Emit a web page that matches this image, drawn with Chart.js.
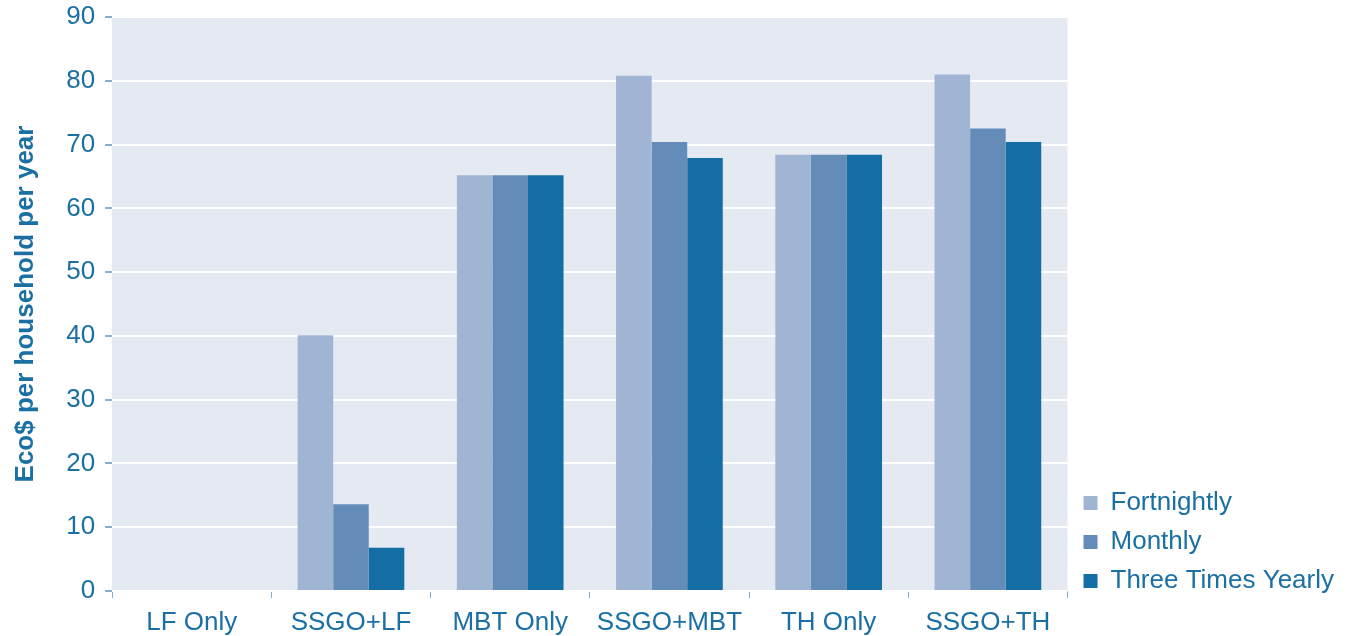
<!DOCTYPE html>
<html>
<head>
<title>Eco$ per household per year</title>
<script src="https://cdn.jsdelivr.net/npm/chart.js"></script>
<style>
    body { margin: 0; background: #fff; }
    #chartContainer {
        width: 1356px;
        height: 636px;
    }
</style>
</head>
<body>
<div id="chartContainer">
    <canvas id="myChart"></canvas>
</div>

<script>
var categories = ['LF Only', 'SSGO+LF', 'MBT Only', 'SSGO+MBT', 'TH Only', 'SSGO+TH'];
var fortnightly = [0, 40.1, 65.2, 80.8, 68.4, 81.0];
var monthly = [0, 13.6, 65.2, 70.4, 68.4, 72.5];
var threeTimesYearly = [0, 6.8, 65.2, 67.9, 68.4, 70.4];
var yTicks = [0, 10, 20, 30, 40, 50, 60, 70, 80, 90];

var textColor = '#1a6fa3';
var tickMarkColor = '#7fb0d0';

Chart.defaults.font.family = '"Liberation Sans", Arial, sans-serif';
Chart.defaults.color = textColor;

// grey-blue panel behind the bars
var plotBackground = {
    id: 'plotBackground',
    beforeDraw: function(chart) {
        var a = chart.chartArea;
        var c = chart.ctx;
        c.save();
        c.fillStyle = '#e5e9f2';
        c.fillRect(a.left, a.top, a.right - a.left, a.bottom - a.top);
        c.restore();
    }
};

// legend sits a little lower, its last row level with the bottom of the bars
var legendNudge = {
    id: 'legendNudge',
    afterLayout: function(chart) {
        chart.legend.top += 16;
        chart.legend.bottom += 16;
        chart.legend.left += 3;
        chart.legend.right += 3;
    }
};

var ctx = document.getElementById('myChart').getContext('2d');

var chart = new Chart(ctx, {
    type: 'bar',
    data: {
        labels: categories,
        datasets: [{
            label: 'Fortnightly',
            data: fortnightly,
            backgroundColor: '#a0b4d4'
        }, {
            label: 'Monthly',
            data: monthly,
            backgroundColor: '#648cb8'
        }, {
            label: 'Three Times Yearly',
            data: threeTimesYearly,
            backgroundColor: '#136ea6'
        }]
    },
    options: {
        maintainAspectRatio: false,
        animation: false,
        layout: {
            padding: { top: 17, right: 15, bottom: -12, left: 10 }
        },
        datasets: {
            bar: {
                categoryPercentage: 0.67,
                barPercentage: 1.0
            }
        },
        plugins: {
            legend: {
                position: 'right',
                align: 'end',
                fullSize: false,
                labels: {
                    boxWidth: 14,
                    boxHeight: 14,
                    padding: 13,
                    color: textColor,
                    font: { size: 26 }
                }
            },
            tooltip: { enabled: false }
        },
        scales: {
            x: {
                grid: {
                    offset: true,
                    drawOnChartArea: false,
                    color: tickMarkColor,
                    tickColor: tickMarkColor,
                    tickLength: 7
                },
                border: { display: false },
                ticks: {
                    color: textColor,
                    font: { size: 26, lineHeight: 1 },
                    padding: 12
                }
            },
            y: {
                min: 0,
                max: 90,
                afterBuildTicks: function(axis) {
                    axis.ticks = yTicks.map(function(v) { return { value: v }; });
                },
                grid: {
                    color: '#ffffff',
                    lineWidth: 2,
                    tickColor: tickMarkColor,
                    tickLength: 7
                },
                border: { display: false },
                ticks: {
                    color: textColor,
                    font: { size: 26, lineHeight: 0.5 },
                    padding: 10
                },
                title: {
                    display: true,
                    text: 'Eco$ per household per year',
                    color: textColor,
                    font: { size: 26, weight: 'bold' },
                    padding: { top: 0, bottom: 15 }
                }
            }
        }
    },
    plugins: [plotBackground, legendNudge]
});
</script>
</body>
</html>
